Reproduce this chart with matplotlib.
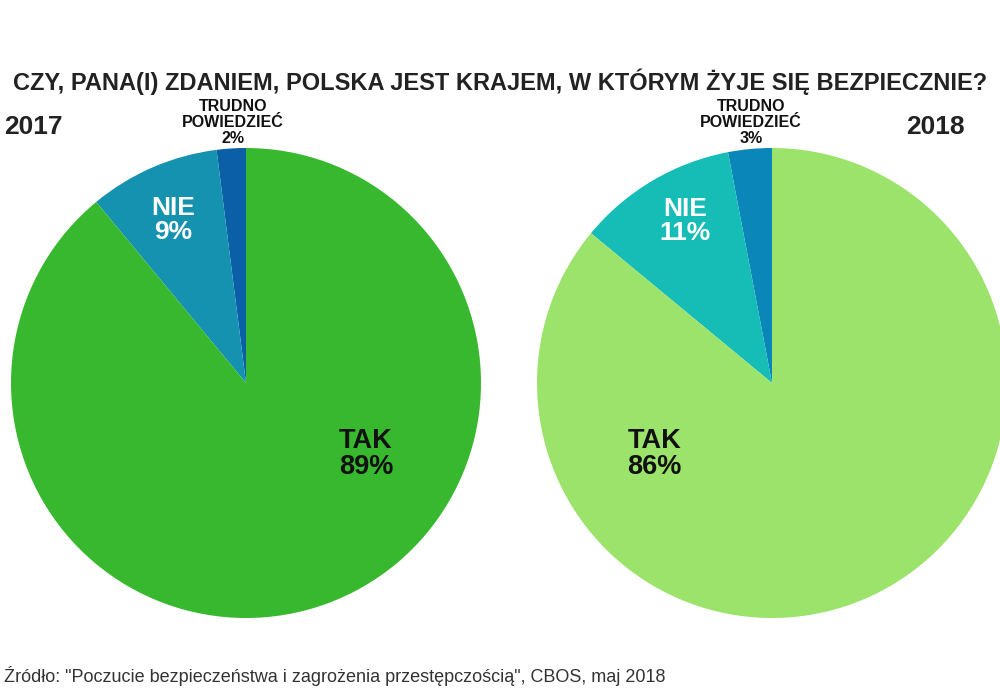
import matplotlib.pyplot as plt

plt.rcParams["font.family"] = ["Liberation Sans", "DejaVu Sans"]

labels = ["TRUDNO\nPOWIEDZIEĆ", "NIE", "TAK"]
years = ["2017", "2018"]
values_2017 = [2, 9, 89]
values_2018 = [3, 11, 86]
colors_2017 = ["#0b5fa6", "#1592b0", "#38b82f"]
colors_2018 = ["#0a86b8", "#15bdb6", "#9ce36b"]

title = "CZY, PANA(I) ZDANIEM, POLSKA JEST KRAJEM, W KTÓRYM ŻYJE SIĘ BEZPIECZNIE?"
source = "Źródło: \"Poczucie bezpieczeństwa i zagrożenia przestępczością\", CBOS, maj 2018"

W, H = 1000, 700
fig = plt.figure(figsize=(W / 100, H / 100), dpi=100)
fig.patch.set_facecolor("white")


def px_axes(cx, cy, r):
    # axes box in pixel coordinates (origin top-left)
    return fig.add_axes([(cx - r) / W, 1 - (cy + r) / H, 2 * r / W, 2 * r / H])


def draw_pie(ax, values, colors, label_x):
    ax.pie(values, colors=colors, startangle=90, counterclock=True,
           radius=1, wedgeprops=dict(linewidth=0))
    ax.set_xlim(-1, 1)
    ax.set_ylim(-1, 1)
    ax.set_aspect("equal")
    ax.axis("off")
    # TRUDNO label outside at top
    ax.text(label_x, 1.01, f"{labels[0]}\n{values[0]}%", ha="center", va="bottom",
            fontsize=11.5, fontweight="bold", color="#111111", linespacing=1.05)


ax1 = px_axes(246, 383, 235)
draw_pie(ax1, values_2017, colors_2017, -0.055)
ax1.text(-0.31, 0.695, f"{labels[1]}\n{values_2017[1]}%", ha="center", va="center",
         fontsize=19, fontweight="bold", color="white", linespacing=1.0)
ax1.text(0.51, -0.30, f"{labels[2]}\n{values_2017[2]}%", ha="center", va="center",
         fontsize=19.5, fontweight="bold", color="#111111", linespacing=1.0)

ax2 = px_axes(772, 383, 235)
draw_pie(ax2, values_2018, colors_2018, -0.09)
ax2.text(-0.37, 0.69, f"{labels[1]}\n{values_2018[1]}%", ha="center", va="center",
         fontsize=19, fontweight="bold", color="white", linespacing=1.0)
ax2.text(-0.50, -0.30, f"{labels[2]}\n{values_2018[2]}%", ha="center", va="center",
         fontsize=19.5, fontweight="bold", color="#111111", linespacing=1.0)

fig.text(4 / W, 1 - 127 / H, years[0], ha="left", va="center",
         fontsize=19, fontweight="bold", color="#222222")
fig.text(935 / W, 1 - 127 / H, years[1], ha="center", va="center",
         fontsize=19, fontweight="bold", color="#222222")

fig.text(500 / W, 1 - 82 / H, title, ha="center", va="center",
         fontsize=17, fontweight="bold", color="#222222")

fig.text(4 / W, 1 - 676 / H, source, ha="left", va="center",
         fontsize=13, color="#333333")

fig.savefig("out.png", dpi=100, facecolor="white")
